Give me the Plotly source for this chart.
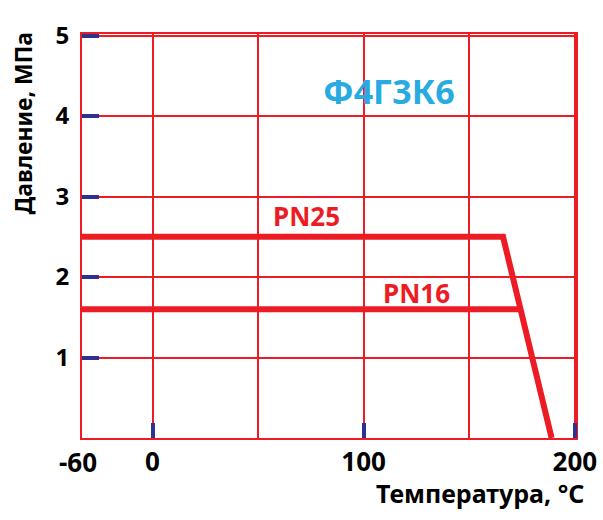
import plotly.graph_objects as go

# Data
pn25_t = [-60, 166, 189]
pn25_p = [2.5, 2.5, 0]
pn16_t = [-60, 173.5]
pn16_p = [1.6, 1.6]
x_tickvals = [0, 100, 200]
x_ticktext = ["0", "100", "200"]
y_tickvals = [1, 2, 3, 4, 5]
y_ticktext = ["1", "2", "3", "4", "5"]
x_left = -33.4  # visual left edge (labelled -60)

RED = "#ed1c24"
NAVY = "#2e3192"
BLUE = "#29abe2"
FONT = "Noto Sans"

fig = go.Figure()
fig.add_trace(go.Scatter(x=pn25_t, y=pn25_p, mode="lines",
                         line=dict(color=RED, width=6), hoverinfo="skip"))
fig.add_trace(go.Scatter(x=pn16_t, y=pn16_p, mode="lines",
                         line=dict(color=RED, width=6), hoverinfo="skip"))

fig.update_layout(
    width=603, height=520,
    margin=dict(l=82, r=27, t=34, b=82, autoexpand=False),
    paper_bgcolor="white", plot_bgcolor="white",
    showlegend=False,
    xaxis=dict(range=[x_left, 200.55], tickvals=x_tickvals, ticktext=x_ticktext,
               ticks="inside", ticklen=15, tickwidth=4, tickcolor=NAVY,
               showgrid=True, gridcolor=RED, gridwidth=1.5,
               minor=dict(dtick=50, tick0=0, showgrid=True, gridcolor=RED, gridwidth=1.5),
               showline=True, linecolor=RED, linewidth=2, mirror=True,
               zeroline=False, automargin=False,
               tickfont=dict(family=FONT, size=26, color="black", weight="bold")),
    yaxis=dict(range=[0, 5.02], tickvals=y_tickvals, ticktext=y_ticktext,
               ticks="inside", ticklen=17, tickwidth=4, tickcolor=NAVY,
               showgrid=True, gridcolor=RED, gridwidth=1.5,
               showline=True, linecolor=RED, linewidth=2, mirror=True,
               zeroline=False, ticklabelstandoff=6, automargin=False,
               tickfont=dict(family=FONT, size=24, color="black", weight="bold")),
    annotations=[
        dict(x=x_left, y=0, xref="x", yref="y", text="-60", showarrow=False,
             xanchor="center", yanchor="top", xshift=-4, yshift=-4,
             font=dict(family=FONT, size=26, color="black", weight="bold")),
        dict(x=1.02, y=-0.135, xref="paper", yref="paper", text="Температура, °C",
             showarrow=False, xanchor="right", yanchor="middle",
             font=dict(family=FONT, size=25, color="black", weight="bold")),
        dict(x=-0.12, y=0.78, xref="paper", yref="paper", text="Давление, МПа",
             showarrow=False, textangle=-90, xanchor="center", yanchor="middle",
             font=dict(family=FONT, size=23, color="black", weight="bold")),
        dict(x=112, y=4.31, xref="x", yref="y", text="Ф4Г3К6", showarrow=False,
             font=dict(family=FONT, size=34, color=BLUE, weight="bold")),
        dict(x=73, y=2.76, xref="x", yref="y", text="PN25", showarrow=False,
             font=dict(family=FONT, size=26, color=RED, weight="bold")),
        dict(x=125, y=1.8, xref="x", yref="y", text="PN16", showarrow=False,
             font=dict(family=FONT, size=26, color=RED, weight="bold")),
    ],
)

fig.write_html("out.html", config={"displayModeBar": False},
               post_script="document.body.style.margin='0';")
